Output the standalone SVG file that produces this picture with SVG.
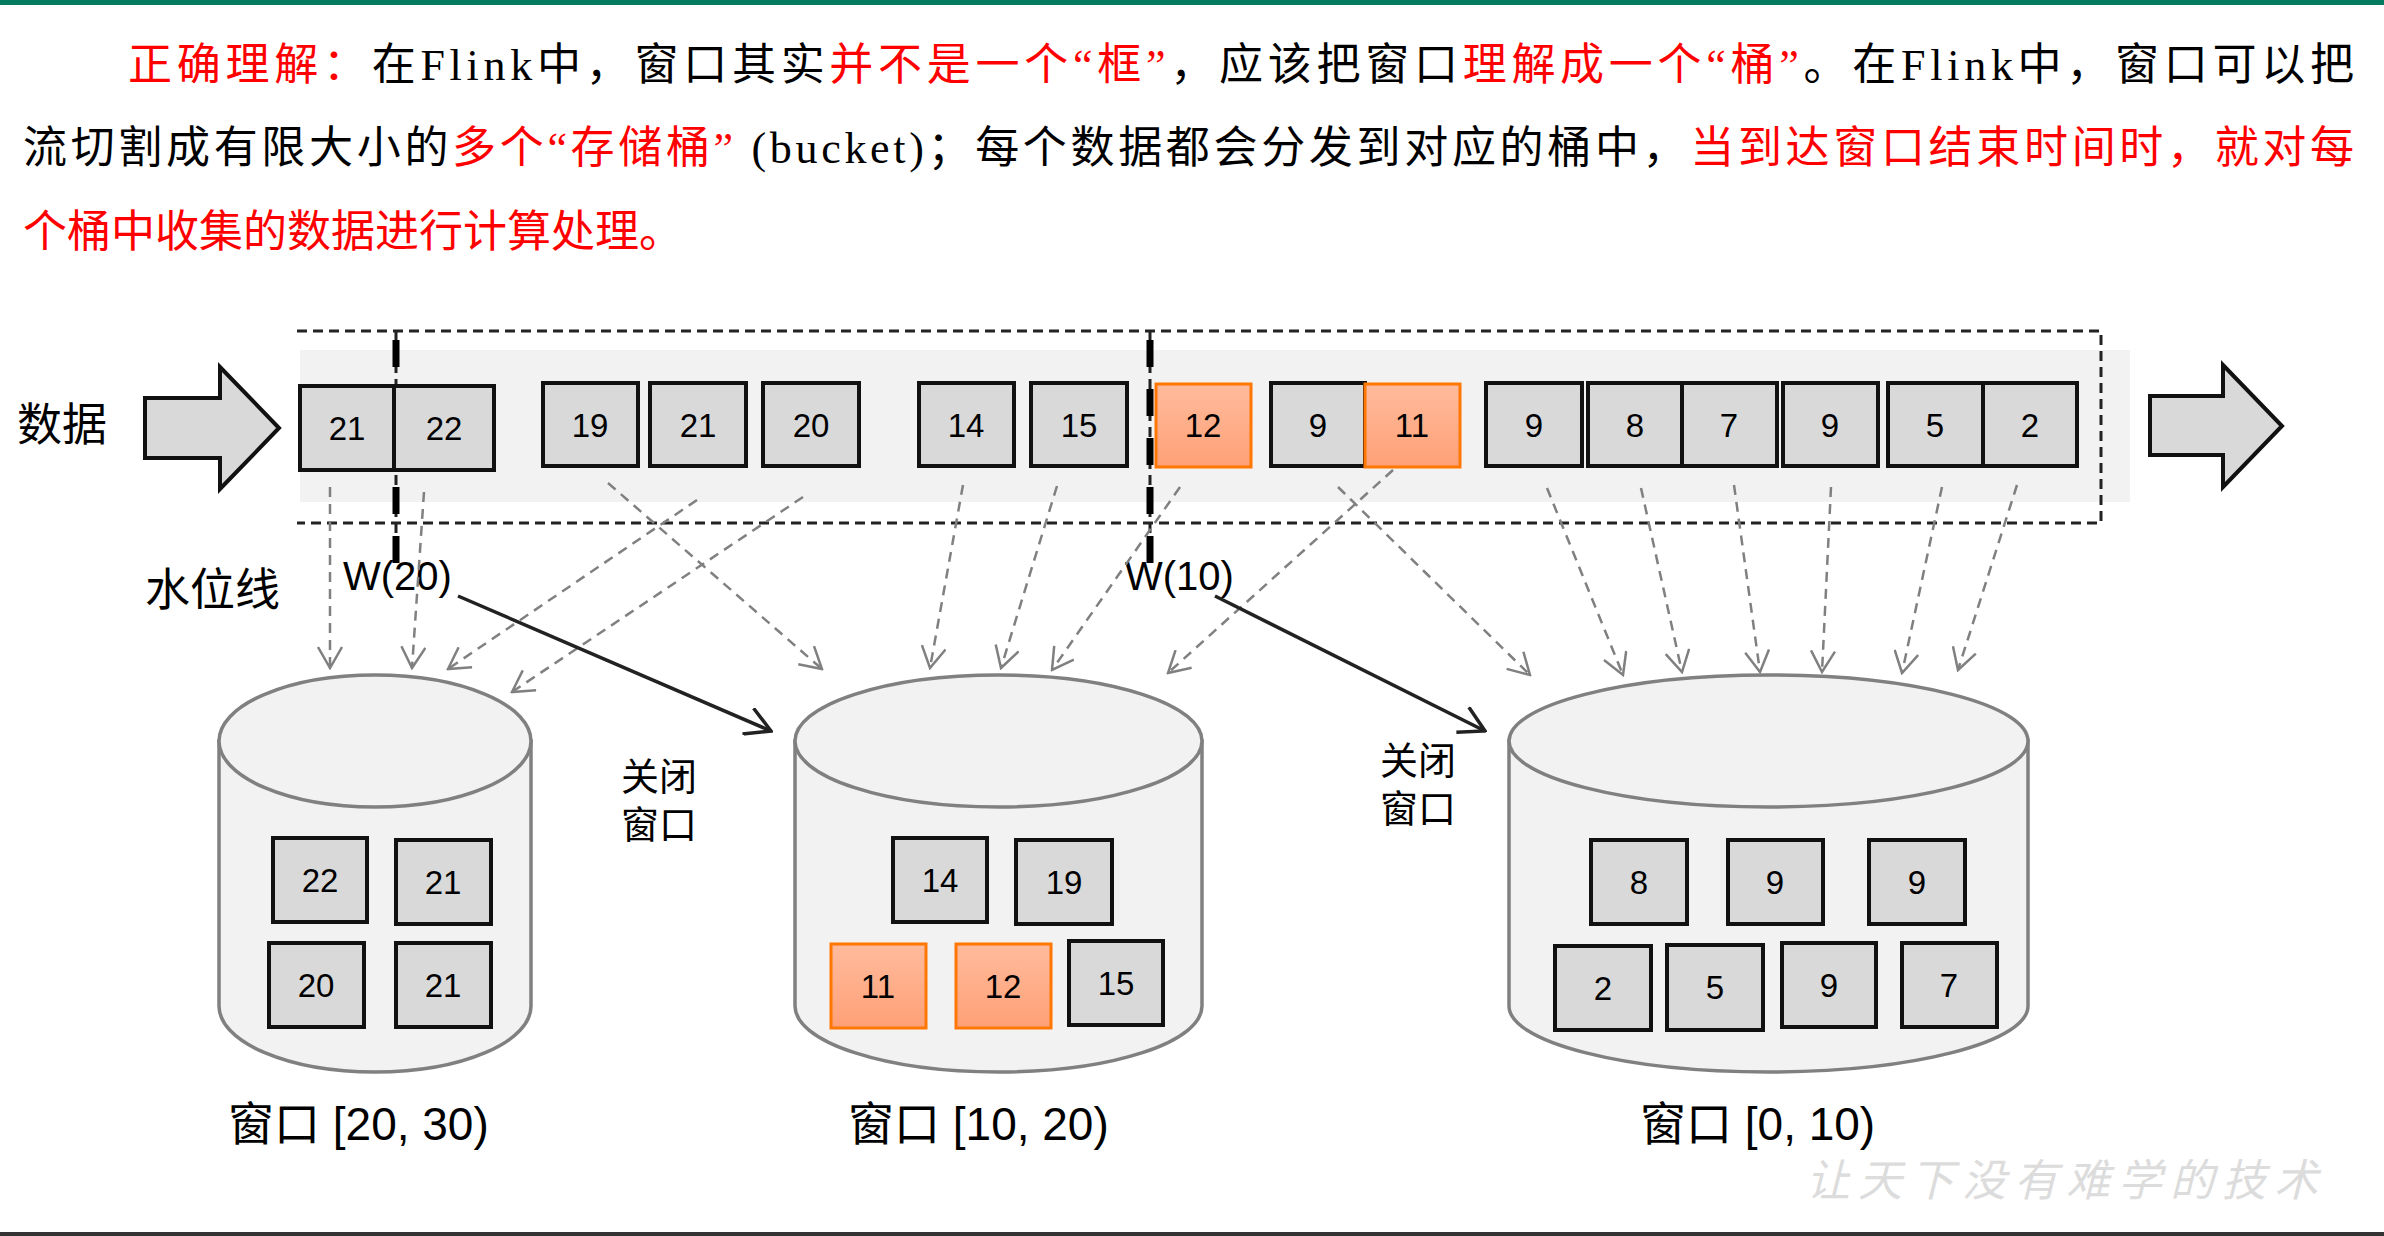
<svg xmlns="http://www.w3.org/2000/svg" width="2384" height="1236" viewBox="0 0 2384 1236">
<defs>
<linearGradient id="og" x1="0" y1="0" x2="0" y2="1"><stop offset="0" stop-color="#ffbb9c"/><stop offset="1" stop-color="#ffa077"/></linearGradient>
<marker id="ga" viewBox="0 0 24 26" markerWidth="24" markerHeight="26" refX="22" refY="13" orient="auto" markerUnits="userSpaceOnUse"><path d="M1,1 L22,13 L1,25" fill="none" stroke="#808080" stroke-width="2.5"/></marker>
<marker id="ba" viewBox="0 0 28 30" markerWidth="28" markerHeight="30" refX="26" refY="15" orient="auto" markerUnits="userSpaceOnUse"><path d="M1,1 L26,15 L1,29" fill="none" stroke="#222" stroke-width="3.5"/></marker>
<style>
.para{font-family:"Liberation Serif","Noto Sans CJK SC",serif;font-size:44px;fill:#000}
.red{fill:#ff0000}
.box{fill:#d9d9d9;stroke:#111;stroke-width:4}
.obox{fill:url(#og);stroke:#ff7700;stroke-width:3}
.num{font-family:"Liberation Sans",Arial,sans-serif;font-size:33px;fill:#000;text-anchor:middle}
.cyl{fill:#f2f2f2;stroke:#808080;stroke-width:3.5}
.lbl{font-family:"Liberation Sans","Noto Sans CJK SC",sans-serif;fill:#000}
.frame{fill:none;stroke:#222;stroke-width:3;stroke-dasharray:10 6}
.gd{fill:none;stroke:#808080;stroke-width:2.5;stroke-dasharray:10 7;marker-end:url(#ga)}
.blk{fill:none;stroke:#222;stroke-width:3.5;marker-end:url(#ba)}
.bigarrow{fill:#d9d9d9;stroke:#111;stroke-width:4}
</style>
</defs>
<rect x="0" y="0" width="2384" height="1236" fill="#fff"/>
<rect x="0" y="0" width="2384" height="5" fill="#047a5f"/>
<rect x="0" y="1232" width="2384" height="4" fill="#333"/>

<g id="paragraph">
<text class="para" x="128" y="80" textLength="2226" lengthAdjust="spacing"><tspan class="red">正确理解：</tspan>在Flink中，窗口其实<tspan class="red">并不是一个“框”</tspan>，应该把窗口<tspan class="red">理解成一个“桶”</tspan>。在Flink中，窗口可以把</text>
<text class="para" x="23" y="163" textLength="2331" lengthAdjust="spacing">流切割成有限大小的<tspan class="red">多个“存储桶”</tspan> (bucket)；每个数据都会分发到对应的桶中，<tspan class="red">当到达窗口结束时间时，就对每</tspan></text>
<text class="para red" x="23" y="247">个桶中收集的数据进行计算处理。</text>
</g>

<g id="stream-band">
<rect x="300" y="350" width="1830" height="152" fill="#f2f2f2"/>
</g>

<g id="label-data"><text class="lbl" x="17" y="441" font-size="45">数据</text></g>
<g id="label-watermark"><text class="lbl" x="145" y="606" font-size="45">水位线</text></g>

<g id="arrow-in"><path class="bigarrow" d="M145,398 L220,398 L220,367 L279,428 L220,489 L220,458 L145,458 Z"/></g>
<g id="arrow-out"><path class="bigarrow" d="M2150,396 L2223,396 L2223,365 L2282,426 L2223,487 L2223,455 L2150,455 Z"/></g>

<g id="window-frame">
<path class="frame" d="M297,331 H2101 V523 H297"/>
<line class="frame" x1="396" y1="331" x2="396" y2="562"/>
<line class="frame" x1="1150" y1="331" x2="1150" y2="562"/>
<line x1="396" y1="340" x2="396" y2="563" stroke="#000" stroke-width="7" stroke-dasharray="27 22"/>
<line x1="1150" y1="340" x2="1150" y2="563" stroke="#000" stroke-width="7" stroke-dasharray="27 22"/>
</g>

<g id="stream-boxes">
<rect class="box" x="300" y="386" width="94" height="84"/><text class="num" x="347" y="440">21</text>
<rect class="box" x="394" y="386" width="100" height="84"/><text class="num" x="444" y="440">22</text>
<rect class="box" x="543" y="383" width="95" height="83"/><text class="num" x="590" y="437">19</text>
<rect class="box" x="650" y="383" width="96" height="83"/><text class="num" x="698" y="437">21</text>
<rect class="box" x="763" y="383" width="96" height="83"/><text class="num" x="811" y="437">20</text>
<rect class="box" x="919" y="383" width="95" height="83"/><text class="num" x="966" y="437">14</text>
<rect class="box" x="1031" y="383" width="96" height="83"/><text class="num" x="1079" y="437">15</text>
<rect class="obox" x="1156" y="384" width="95" height="83"/><text class="num" x="1203" y="437">12</text>
<rect class="box" x="1271" y="383" width="94" height="83"/><text class="num" x="1318" y="437">9</text>
<rect class="obox" x="1365" y="384" width="95" height="83"/><text class="num" x="1412" y="437">11</text>
<rect class="box" x="1486" y="383" width="96" height="83"/><text class="num" x="1534" y="437">9</text>
<rect class="box" x="1588" y="383" width="94" height="83"/><text class="num" x="1635" y="437">8</text>
<rect class="box" x="1682" y="383" width="95" height="83"/><text class="num" x="1729" y="437">7</text>
<rect class="box" x="1783" y="383" width="95" height="83"/><text class="num" x="1830" y="437">9</text>
<rect class="box" x="1888" y="383" width="95" height="83"/><text class="num" x="1935" y="437">5</text>
<rect class="box" x="1983" y="383" width="94" height="83"/><text class="num" x="2030" y="437">2</text>
</g>

<g id="wm-labels">
<text class="lbl" x="343" y="590" font-size="40">W(20)</text>
<text class="lbl" x="1125" y="590" font-size="40">W(10)</text>
</g>

<g id="cyl-20-30">
<path class="cyl" d="M219,741 L219,1006 A156,66 0 0 0 531,1006 L531,741 Z"/>
<ellipse class="cyl" cx="375" cy="741" rx="156" ry="66"/>
<rect class="box" x="273" y="838" width="94" height="84" stroke-width="3.5"/><text class="num" x="320" y="892">22</text>
<rect class="box" x="396" y="840" width="95" height="84" stroke-width="3.5"/><text class="num" x="443" y="894">21</text>
<rect class="box" x="269" y="943" width="95" height="84" stroke-width="3.5"/><text class="num" x="316" y="997">20</text>
<rect class="box" x="396" y="943" width="95" height="84" stroke-width="3.5"/><text class="num" x="443" y="997">21</text>
<text class="lbl" x="228" y="1140" font-size="46">窗口 [20, 30)</text>
</g>

<g id="cyl-10-20">
<path class="cyl" d="M795,741 L795,1006 A203.5,66 0 0 0 1202,1006 L1202,741 Z"/>
<ellipse class="cyl" cx="998.5" cy="741" rx="203.5" ry="66"/>
<rect class="box" x="893" y="838" width="94" height="84" stroke-width="3.5"/><text class="num" x="940" y="892">14</text>
<rect class="box" x="1016" y="840" width="96" height="84" stroke-width="3.5"/><text class="num" x="1064" y="894">19</text>
<rect class="obox" x="831" y="944" width="95" height="84"/><text class="num" x="878" y="998">11</text>
<rect class="obox" x="956" y="944" width="95" height="84"/><text class="num" x="1003" y="998">12</text>
<rect class="box" x="1069" y="941" width="94" height="84" stroke-width="3.5"/><text class="num" x="1116" y="995">15</text>
<text class="lbl" x="848" y="1140" font-size="46">窗口 [10, 20)</text>
</g>

<g id="cyl-0-10">
<path class="cyl" d="M1509,741 L1509,1006 A259.5,66 0 0 0 2028,1006 L2028,741 Z"/>
<ellipse class="cyl" cx="1768.5" cy="741" rx="259.5" ry="66"/>
<rect class="box" x="1591" y="840" width="96" height="84" stroke-width="3.5"/><text class="num" x="1639" y="894">8</text>
<rect class="box" x="1728" y="840" width="95" height="84" stroke-width="3.5"/><text class="num" x="1775" y="894">9</text>
<rect class="box" x="1869" y="840" width="96" height="84" stroke-width="3.5"/><text class="num" x="1917" y="894">9</text>
<rect class="box" x="1555" y="946" width="96" height="84" stroke-width="3.5"/><text class="num" x="1603" y="1000">2</text>
<rect class="box" x="1667" y="945" width="96" height="85" stroke-width="3.5"/><text class="num" x="1715" y="999">5</text>
<rect class="box" x="1782" y="943" width="94" height="84" stroke-width="3.5"/><text class="num" x="1829" y="997">9</text>
<rect class="box" x="1902" y="943" width="95" height="84" stroke-width="3.5"/><text class="num" x="1949" y="997">7</text>
<text class="lbl" x="1640" y="1140" font-size="46">窗口 [0, 10)</text>
</g>

<g id="close-labels">
<text class="lbl" x="621" y="790" font-size="38">关闭</text>
<text class="lbl" x="621" y="838" font-size="38">窗口</text>
<text class="lbl" x="1380" y="774" font-size="38">关闭</text>
<text class="lbl" x="1380" y="822" font-size="38">窗口</text>
</g>

<g id="connectors">
<line class="gd" x1="330" y1="487" x2="330" y2="668"/>
<line class="gd" x1="424" y1="492" x2="412" y2="668"/>
<line class="gd" x1="697" y1="500" x2="448" y2="669"/>
<line class="gd" x1="803" y1="497" x2="512" y2="692"/>
<line class="gd" x1="608" y1="483" x2="822" y2="669"/>
<line class="gd" x1="963" y1="485" x2="930" y2="668"/>
<line class="gd" x1="1057" y1="486" x2="1001" y2="668"/>
<line class="gd" x1="1180" y1="487" x2="1052" y2="670"/>
<line class="gd" x1="1393" y1="470" x2="1168" y2="673"/>
<line class="gd" x1="1338" y1="487" x2="1530" y2="675"/>
<line class="gd" x1="1547" y1="488" x2="1623" y2="675"/>
<line class="gd" x1="1641" y1="488" x2="1682" y2="672"/>
<line class="gd" x1="1734" y1="485" x2="1760" y2="672"/>
<line class="gd" x1="1831" y1="487" x2="1822" y2="672"/>
<line class="gd" x1="1942" y1="487" x2="1902" y2="673"/>
<line class="gd" x1="2017" y1="485" x2="1958" y2="670"/>
<line class="blk" x1="458" y1="596" x2="771" y2="731"/>
<line class="blk" x1="1215" y1="596" x2="1485" y2="731"/>
</g>

<g id="watermark-text">
<text x="1806" y="1196" font-family="'Noto Sans CJK SC',sans-serif" font-size="44" font-style="italic" fill="#dcdcdc" textLength="512" lengthAdjust="spacing">让天下没有难学的技术</text>
</g>
</svg>
